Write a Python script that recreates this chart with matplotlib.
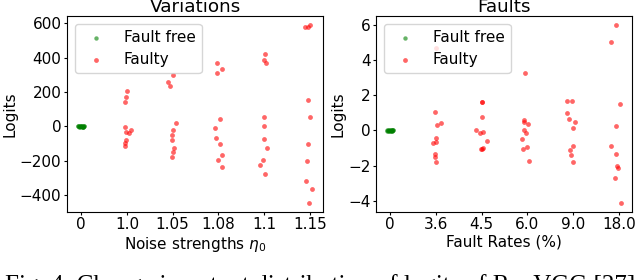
import matplotlib
matplotlib.use('Agg')
import matplotlib.pyplot as plt
import numpy as np

plt.rcParams['font.size'] = 11

##### data #####
noise_labels = ['0', '1.0', '1.05', '1.08', '1.1', '1.15']
rate_labels = ['0', '3.6', '4.5', '6.0', '9.0', '18.0']

# fault free logits (all near zero) and their horizontal jitter
free_jit = [-0.07, -0.05, -0.04, -0.03, -0.02, -0.01, 0.0, 0.01, 0.02, 0.03, 0.04, 0.05, 0.06, 0.07, -0.06, 0.035]
free_var = [1.5, -2.0, 0.8, -1.2, 2.2, -0.5, 0.3, -1.8, 1.1, -0.9, 2.5, -2.3, 0.6, -0.2, 1.7, -1.4]
free_flt = [0.01, -0.02, 0.015, -0.01, 0.02, -0.005, 0.005, -0.015, 0.01, -0.02, 0.02, -0.01, 0.0, 0.01, -0.01, 0.015]

# variations: faulty logits per noise strength
var_vals = [
    [208, 173, 144, -2, -35, -41, -21, -80, -95, -113],
    [299, 256, 235, 17, -21, -51, -80, -124, -148, -177],
    [371, 334, 309, 41, -8, -66, -105, -167, -196, -235],
    [421, 384, 367, 56, 2, -74, -124, -198, -227, -274],
    [577, 577, 590, 153, 56, -103, -200, -319, -363, -443],
]
var_jit = [
    [0.0, -0.03, -0.04, -0.04, -0.01, 0.04, 0.09, -0.03, -0.04, -0.04],
    [0.0, -0.09, -0.05, 0.07, 0.0, -0.01, -0.01, 0.03, 0.01, -0.01],
    [-0.03, 0.09, -0.02, 0.03, -0.07, -0.04, 0.04, 0.07, 0.0, 0.09],
    [0.03, 0.01, 0.04, 0.01, 0.01, -0.01, 0.07, -0.03, -0.08, 0.03],
    [-0.1, -0.03, 0.01, -0.04, 0.01, -0.04, -0.06, -0.08, 0.05, -0.01],
]

# faults: faulty logits per fault rate
flt_vals = [
    [1.03, 0.32, 0.40, -0.42, -0.69, -0.67, -1.33, -1.52, -1.77, 4.7],
    [1.6, 1.62, 0.78, 0.0, -0.15, -0.06, -0.61, -1.03, -0.97, -1.07],
    [3.26, 0.51, 0.59, 0.36, 0.0, -0.15, -0.51, -0.93, -1.05, -1.75],
    [1.66, 1.66, 1.0, 0.63, 0.51, 0.17, -0.91, -1.1, -1.37, -1.77],
    [6.02, 5.07, 1.50, 0.27, -0.90, -1.33, -2.04, -2.13, -2.72, -4.11],
]
flt_jit = [
    [-0.01, 0.03, 0.12, 0.01, -0.06, 0.0, -0.01, -0.01, 0.0, 0.01],
    [0.0, 0.005, 0.0, -0.13, -0.04, 0.02, 0.11, -0.02, 0.04, 0.01],
    [-0.04, -0.08, -0.07, 0.02, -0.07, -0.02, -0.11, -0.01, -0.09, 0.03],
    [-0.14, -0.03, -0.14, -0.08, 0.05, -0.01, 0.01, -0.07, -0.04, 0.0],
    [-0.06, -0.18, 0.03, -0.06, -0.16, -0.07, -0.04, -0.01, -0.08, 0.04],
]


def draw_panel(ax, title, xlabel, labels, free, vals, jit):
    ax.scatter(free_jit, free, s=10, color='green', alpha=0.6, linewidths=0, label='Fault free')
    xs, ys = [], []
    for i in range(len(vals)):
        xs += [i + 1 + j for j in jit[i]]
        ys += vals[i]
    ax.scatter(xs, ys, s=12, color='red', alpha=0.6, linewidths=0, label='Faulty')
    ax.set_xticks(range(len(labels)))
    ax.set_xticklabels(labels)
    ax.set_xlim(-0.31, 5.29)
    ax.set_title(title, pad=0)
    ax.set_xlabel(xlabel, labelpad=2)
    ax.set_ylabel('Logits', labelpad=2)
    ax.tick_params(length=2.5, pad=1.5)
    ax.legend(loc='upper left', fontsize=11)


fig = plt.figure(figsize=(6.4, 2.8), dpi=100)
ax1 = fig.add_axes([0.1047, 0.2446, 0.4, 0.6984])
ax2 = fig.add_axes([0.5875, 0.2446, 0.4, 0.6984])

draw_panel(ax1, 'Variations', r'Noise strengths $\eta_0$', noise_labels, free_var, var_vals, var_jit)
draw_panel(ax2, 'Faults', 'Fault Rates (%)', rate_labels, free_flt, flt_vals, flt_jit)
ax1.set_yticks([-400, -200, 0, 200, 400, 600])

# caption, cut off at the bottom edge as in the source picture
fig.text(0.5, -0.043, 'Fig. 4: Change in output distribution of logits of RepVGG [27]',
         ha='center', va='baseline', family='Liberation Serif', fontsize=18)

fig.savefig('out.png', dpi=100)
